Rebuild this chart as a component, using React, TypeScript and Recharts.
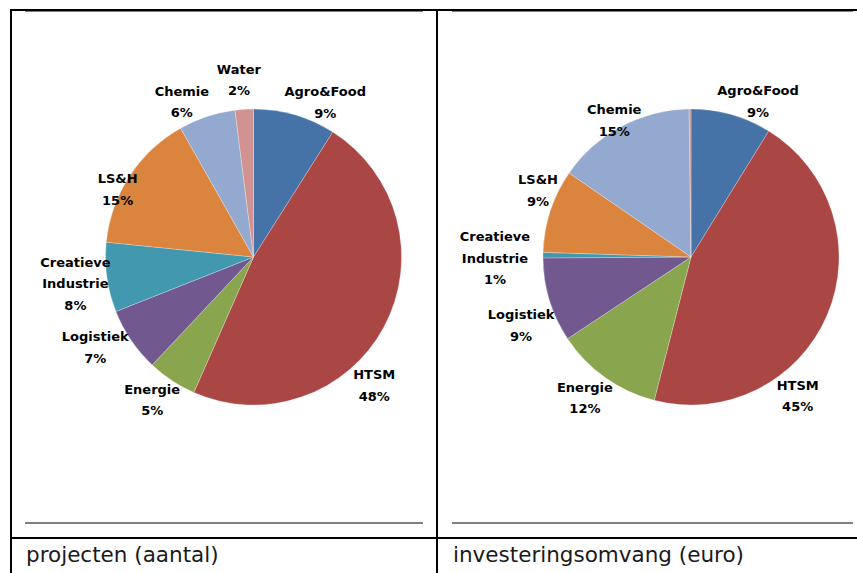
import React from "react";
import { PieChart, Pie, Cell } from "recharts";

const sectors = ["Agro&Food", "HTSM", "Energie", "Logistiek", "Creatieve Industrie", "LS&H", "Chemie", "Water"];
const projectShares = [9.0, 47.6, 5.4, 7.0, 7.6, 15.2, 6.2, 2.0];
const investmentShares = [8.8, 45.2, 11.7, 9.2, 0.6, 9.1, 15.2, 0.2];
const captions = ["projecten (aantal)", "investeringsomvang (euro)"];

const colors = ["#4572A7", "#AA4643", "#89A54E", "#71588F", "#4198AF", "#DB843D", "#93A9CF", "#D19392"];

// label placement: offset beyond outer radius, angular shift (deg, clockwise), weight
type Lay = { off: number; shift: number; weight?: string } | null;
const leftLayout: Lay[] = [
  { off: 23, shift: 8.6 },
  { off: 28, shift: 18.6 },
  { off: 27, shift: 1.9 },
  { off: 34, shift: 4.6 },
  { off: 32, shift: -0.4 },
  { off: 4, shift: -6.5 },
  { off: 23, shift: -6.4 },
  { off: 30, shift: -1.1 },
];
const rightLayout: Lay[] = [
  { off: 22, shift: 7.4 },
  { off: 27, shift: 29.4, weight: "600" },
  { off: 28, shift: 1.6 },
  { off: 35, shift: -4.9 },
  { off: 48, shift: -1 },
  { off: 19, shift: 5.4 },
  { off: 9, shift: -1.2 },
  null,
];

const RAD = Math.PI / 180;
const LABEL_FONT = "'DejaVu Sans', Verdana, sans-serif";

function makeLabel(layout: Lay[]) {
  return (props: any) => {
    const { cx, cy, midAngle, outerRadius, percent, index, name } = props;
    const lay = layout[index];
    if (!lay) return null;
    const clock = 90 - midAngle + lay.shift;
    const r = outerRadius + lay.off;
    const x = cx + r * Math.sin(clock * RAD);
    const y = cy - r * Math.cos(clock * RAD);
    const lines = [...String(name).split(" "), `${Math.round(percent * 100)}%`];
    const lh = 21.5;
    const y0 = y - ((lines.length - 1) * lh) / 2;
    return (
      <text
        x={x}
        y={y0}
        textAnchor="middle"
        dominantBaseline="central"
        fontFamily={LABEL_FONT}
        fontSize={13}
        fontWeight={lay.weight || "bold"}
        fill="#000"
      >
        {lines.map((l, i) => (
          <tspan key={i} x={x} y={y0 + i * lh}>
            {l}
          </tspan>
        ))}
      </text>
    );
  };
}

function SectorPie({ values, layout, cx }: { values: number[]; layout: Lay[]; cx: number }) {
  const data = sectors.map((name, i) => ({ name, value: values[i] }));
  return (
    <PieChart width={424} height={510} margin={{ top: 0, right: 0, bottom: 0, left: 0 }}>
      <Pie
        data={data}
        dataKey="value"
        nameKey="name"
        cx={cx}
        cy={245}
        outerRadius={148}
        innerRadius={0}
        startAngle={90}
        endAngle={-270}
        stroke="#ffffff"
        strokeWidth={0.5}
        strokeOpacity={0.5}
        labelLine={false}
        label={makeLabel(layout)}
        isAnimationActive={false}
      >
        {data.map((d, i) => (
          <Cell key={d.name} fill={colors[i]} />
        ))}
      </Pie>
    </PieChart>
  );
}

export default function App() {
  return (
    <div style={{ position: "absolute", left: 0, top: 0, width: 857, height: 573, background: "#fff", overflow: "hidden" }}>
      <svg width={857} height={573} style={{ position: "absolute", left: 0, top: 0 }}>
        <rect x={25} y={11} width={398} height={1} fill="#808080" />
        <rect x={452} y={11} width={401} height={1} fill="#808080" />
        <rect x={25} y={522} width={398} height={2} fill="#808080" />
        <rect x={452} y={522} width={401} height={2} fill="#808080" />
        <rect x={10} y={9} width={847} height={2} fill="#000" />
        <rect x={10} y={537} width={847} height={2} fill="#000" />
        <rect x={10} y={9} width={2} height={564} fill="#000" />
        <rect x={436} y={9} width={2} height={564} fill="#000" />
        <text x={26} y={562} fontFamily="'DejaVu Sans', Verdana, sans-serif" fontSize={21.5} fill="#1a1a1a">
          {captions[0]}
        </text>
        <text x={453} y={562} fontFamily="'DejaVu Sans', Verdana, sans-serif" fontSize={21.5} fill="#1a1a1a">
          {captions[1]}
        </text>
      </svg>
      <div style={{ position: "absolute", left: 12, top: 12 }}>
        <SectorPie values={projectShares} layout={leftLayout} cx={241.5} />
      </div>
      <div style={{ position: "absolute", left: 439, top: 12 }}>
        <SectorPie values={investmentShares} layout={rightLayout} cx={252} />
      </div>
    </div>
  );
}
